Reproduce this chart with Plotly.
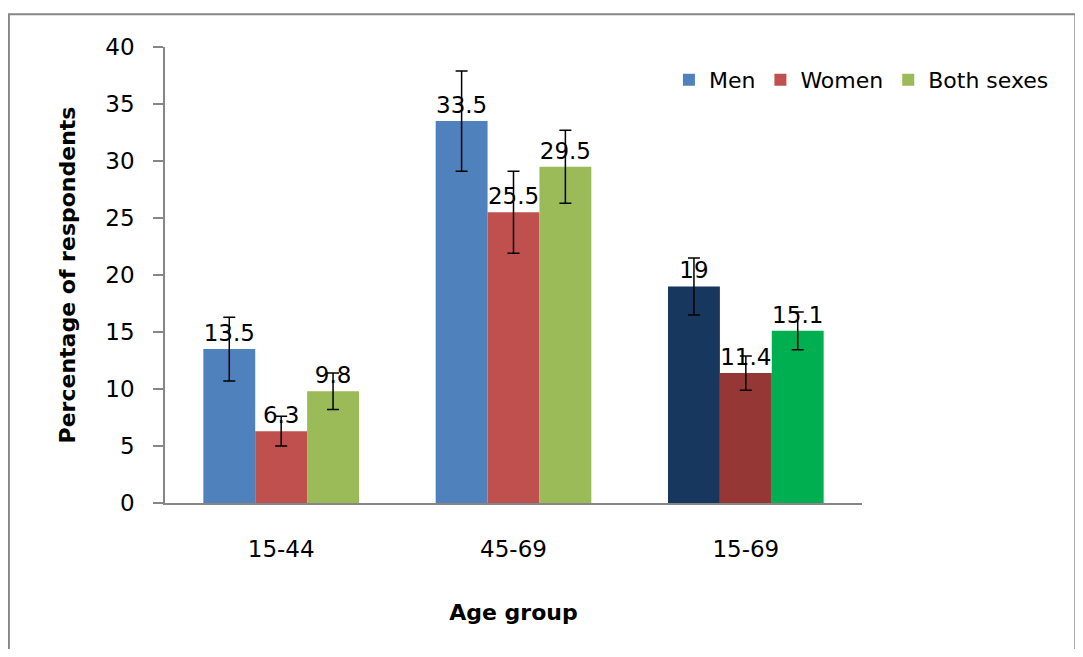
import plotly.graph_objects as go

categories = ["15-44", "45-69", "15-69"]
men = [13.5, 33.5, 19]
women = [6.3, 25.5, 11.4]
both = [9.8, 29.5, 15.1]
men_err = [2.8, 4.4, 2.5]
women_err = [1.3, 3.6, 1.5]
both_err = [1.6, 3.2, 1.65]
men_colors = ["#4F81BD", "#4F81BD", "#17375E"]
women_colors = ["#C0504D", "#C0504D", "#953735"]
both_colors = ["#9BBB59", "#9BBB59", "#00B050"]

FONT = "DejaVu Sans"

fig = go.Figure()
for name, vals, errs, cols in [
    ("Men", men, men_err, men_colors),
    ("Women", women, women_err, women_colors),
    ("Both sexes", both, both_err, both_colors),
]:
    fig.add_trace(go.Bar(
        name=name, x=categories, y=vals,
        marker=dict(color=cols, line=dict(width=0)),
        error_y=dict(type="data", array=errs, visible=True, color="black", thickness=1.5, width=6),
        text=[str(v) for v in vals], textposition="outside",
        textfont=dict(family=FONT, size=23, color="black"),
        cliponaxis=False,
    ))

fig.update_layout(
    width=1067, height=641,
    margin=dict(l=157, r=213, t=39, b=146),
    barmode="group", bargap=0.33, bargroupgap=0,
    plot_bgcolor="white", paper_bgcolor="white",
    font=dict(family=FONT, size=22, color="black"),
    showlegend=True,
    legend=dict(orientation="h", x=0.723, y=0.928, xanchor="left", yanchor="middle",
                font=dict(family=FONT, size=22, color="black"), bgcolor="rgba(0,0,0,0)",
                itemwidth=30, tracegroupgap=0),
    xaxis=dict(showline=True, linecolor="#868686", linewidth=1.5, ticks="",
               ticklabelstandoff=25,
               title=dict(text="<b>Age group</b>", standoff=43, font=dict(size=22)),
               tickfont=dict(size=23), automargin=False),
    yaxis=dict(range=[0, 40], dtick=5, showgrid=False, zeroline=False,
               showline=True, linecolor="#868686", linewidth=1.5,
               ticks="outside", ticklen=10, tickcolor="#868686", tickwidth=1.5,
               ticklabelstandoff=14,
               title=dict(text="<b>Percentage of respondents</b>", standoff=24, font=dict(size=22)),
               tickfont=dict(size=23), automargin=False),
    shapes=[dict(type="rect", xref="paper", yref="paper",
                 x0=-0.224, x1=1.306, y0=-0.4, y1=1.072,
                 line=dict(color="#868686", width=2), fillcolor="rgba(0,0,0,0)", layer="below")],
)

fig.write_html("out.html")
